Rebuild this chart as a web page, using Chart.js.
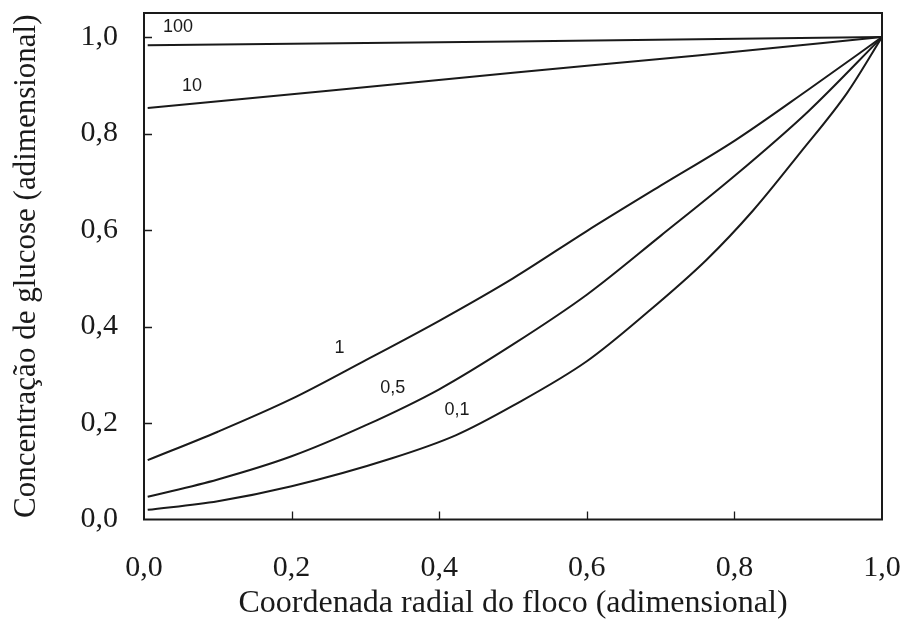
<!DOCTYPE html>
<html>
<head>
<meta charset="utf-8">
<script src="https://cdn.jsdelivr.net/npm/chart.js@4/dist/chart.umd.min.js"></script>
<style>
  html, body { margin: 0; padding: 0; background: #fff; }
  #wrap { width: 905px; height: 623px; position: relative; }
</style>
</head>
<body>
<div id="wrap"><canvas id="perfil"></canvas></div>
<script>
// perfis de concentração no floco, um por valor do parâmetro
const xTicks = [0, 0.2, 0.4, 0.6, 0.8, 1.0];
const yTicks = [0, 0.2, 0.4, 0.6, 0.8, 1.0];

const x100 = [0.005, 0.5, 1.0];
const y100 = [0.983, 0.991, 1.0];

const x10 = [0.005, 0.25, 0.5, 0.75, 1.0];
const y10 = [0.853, 0.889, 0.926, 0.962, 1.0];

const x1 = [0.005, 0.1, 0.2, 0.3, 0.4, 0.5, 0.6, 0.7, 0.8, 0.9, 1.0];
const y1 = [0.123, 0.182, 0.250, 0.330, 0.412, 0.500, 0.598, 0.692, 0.785, 0.891, 1.0];

const x05 = [0.005, 0.1, 0.2, 0.3, 0.4, 0.5, 0.6, 0.7, 0.8, 0.9, 1.0];
const y05 = [0.047, 0.083, 0.131, 0.195, 0.270, 0.363, 0.466, 0.588, 0.712, 0.846, 1.0];

const x01 = [0.005, 0.1, 0.2, 0.336, 0.423, 0.5, 0.6, 0.681, 0.762, 0.825, 0.889, 0.953, 1.0];
const y01 = [0.020, 0.038, 0.069, 0.127, 0.175, 0.236, 0.328, 0.428, 0.538, 0.640, 0.760, 0.885, 1.0];

// rótulos das curvas: texto, x, y
const curveLabels = ['100', '10', '1', '0,5', '0,1'];
const labelX = [0.046, 0.065, 0.265, 0.337, 0.424];
const labelY = [1.020, 0.898, 0.356, 0.272, 0.226];

const INK = '#1a1a1a';
const serif = "'Liberation Serif', 'Times New Roman', serif";

function pts(xs, ys) { return xs.map((x, i) => ({ x: x, y: ys[i] })); }
function comma(v) { return Number(v).toFixed(1).replace('.', ','); }

const series = [[x100, y100], [x10, y10], [x1, y1], [x05, y05], [x01, y01]];

// moldura, marcas internas dos eixos e rótulos das curvas
const frame = {
  id: 'frame',
  afterDatasetsDraw(chart) {
    const { ctx, chartArea: a, scales: { x, y } } = chart;
    ctx.save();
    ctx.strokeStyle = INK;
    ctx.lineWidth = 2;
    ctx.strokeRect(a.left, a.top, a.right - a.left, a.bottom - a.top);
    ctx.lineWidth = 1.3;
    ctx.beginPath();
    yTicks.slice(1).forEach(v => {
      const py = Math.round(y.getPixelForValue(v)) + 0.5;
      ctx.moveTo(a.left, py); ctx.lineTo(a.left + 8, py);
    });
    xTicks.slice(1, -1).forEach(v => {
      const px = Math.round(x.getPixelForValue(v)) + 0.5;
      ctx.moveTo(px, a.bottom); ctx.lineTo(px, a.bottom - 8);
    });
    ctx.stroke();

    ctx.fillStyle = INK;
    ctx.font = "18px 'Liberation Sans', Arial, sans-serif";
    ctx.textAlign = 'center';
    ctx.textBaseline = 'middle';
    curveLabels.forEach((t, i) => {
      ctx.fillText(t, x.getPixelForValue(labelX[i]), y.getPixelForValue(labelY[i]));
    });
    ctx.restore();
  }
};

new Chart(document.getElementById('perfil'), {
  type: 'line',
  data: {
    datasets: series.map(s => ({
      data: pts(s[0], s[1]),
      borderColor: INK,
      borderWidth: 2,
      pointRadius: 0,
      fill: false,
      cubicInterpolationMode: 'monotone'
    }))
  },
  options: {
    responsive: true,
    maintainAspectRatio: false,
    animation: false,
    layout: { padding: { top: 13, right: 23, left: 0, bottom: 0 } },
    plugins: { legend: { display: false }, tooltip: { enabled: false } },
    scales: {
      x: {
        type: 'linear', min: 0, max: 1.0,
        afterBuildTicks: s => { s.ticks = xTicks.map(v => ({ value: v })); },
        afterFit: s => { s.height = 103.5; s.paddingLeft = 0; s.paddingRight = 0; },
        grid: { display: false, drawTicks: false },
        border: { display: false },
        ticks: { color: INK, padding: 31, maxRotation: 0, font: { family: serif, size: 30 }, callback: comma },
        title: { display: true, text: 'Coordenada radial do floco (adimensional)', color: INK,
                 font: { family: serif, size: 32 }, padding: { top: 0, bottom: 0 } }
      },
      y: {
        type: 'linear', min: 0, max: 1.05,
        afterBuildTicks: s => { s.ticks = yTicks.map(v => ({ value: v })); },
        afterFit: s => { s.width = 144; s.paddingTop = 0; s.paddingBottom = 0; },
        grid: { display: false, drawTicks: false },
        border: { display: false },
        ticks: { color: INK, padding: 26, font: { family: serif, size: 30 }, callback: comma },
        title: { display: true, text: 'Concentração de glucose (adimensional)', color: INK,
                 font: { family: serif, size: 31 }, padding: { top: 8, bottom: 0 } }
      }
    }
  },
  plugins: [frame]
});
</script>
</body>
</html>
